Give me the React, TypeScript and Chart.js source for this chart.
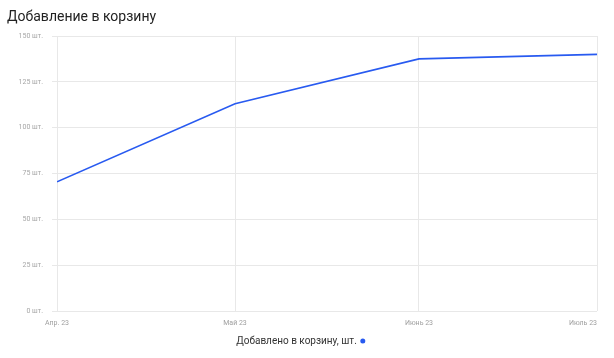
import React, { useEffect, useRef } from 'react';
import { Chart, registerables } from 'chart.js';

Chart.register(...registerables);

const chartTitle = 'Добавление в корзину';
const monthDates = ['2023-04-01', '2023-05-01', '2023-06-01', '2023-07-01'];
const monthLabels = ['Апр. 23', 'Май 23', 'Июнь 23', 'Июль 23'];
const addedToCart = [70.5, 113, 137.5, 140];
const yMin = 0;
const yMax = 150;
const yStep = 25;
const unit = 'шт.';
const seriesName = 'Добавлено в корзину, шт.';

const LINE_COLOR = '#285af0';
const GRID_COLOR = '#e8e8e8';

export default function App() {
  const ref = useRef<HTMLCanvasElement | null>(null);

  useEffect(() => {
    const canvas = ref.current;
    if (!canvas) return;
    const times = monthDates.map((d) => Date.parse(d + 'T00:00:00Z'));

    const decor = {
      id: 'decor',
      afterDraw(chart: any) {
        const ctx = chart.ctx as CanvasRenderingContext2D;
        const xs = chart.scales.x;
        const area = chart.chartArea;
        ctx.save();
        // title
        ctx.font = '14px Roboto';
        ctx.fillStyle = '#222222';
        ctx.textAlign = 'left';
        ctx.textBaseline = 'alphabetic';
        ctx.fillText(chartTitle, 7, 21);
        // x labels
        ctx.font = '7px Roboto';
        ctx.fillStyle = '#9e9e9e';
        ctx.textBaseline = 'middle';
        times.forEach((t, i) => {
          const px = xs.getPixelForValue(t);
          ctx.textAlign = i === times.length - 1 ? 'right' : 'center';
          ctx.fillText(monthLabels[i], px, area.bottom + 12);
        });
        // legend
        ctx.font = '10px Roboto';
        ctx.fillStyle = '#333333';
        ctx.textAlign = 'left';
        const tw = ctx.measureText(seriesName).width;
        const total = tw + 4 + 5;
        const start = chart.width / 2 - total / 2 - 6;
        const ly = area.bottom + 30;
        ctx.fillText(seriesName, start, ly);
        ctx.beginPath();
        ctx.fillStyle = LINE_COLOR;
        ctx.arc(start + tw + 6, ly, 2.5, 0, Math.PI * 2);
        ctx.fill();
        ctx.restore();
      },
    };

    const chart = new Chart(canvas, {
      type: 'line',
      data: {
        datasets: [
          {
            label: seriesName,
            data: times.map((t, i) => ({ x: t, y: addedToCart[i] })),
            borderColor: LINE_COLOR,
            backgroundColor: LINE_COLOR,
            borderWidth: 1.6,
            pointRadius: 0,
            tension: 0,
            fill: false,
          },
        ],
      },
      options: {
        animation: false,
        responsive: false,
        layout: { padding: { top: 36, right: 17, bottom: 47, left: 0 } },
        plugins: {
          legend: { display: false },
          title: { display: false },
          tooltip: { enabled: false },
        },
        scales: {
          x: {
            type: 'linear',
            min: times[0],
            max: times[times.length - 1],
            afterBuildTicks: (s: any) => {
              s.ticks = times.map((v) => ({ value: v }));
            },
            afterFit: (s: any) => {
              s.height = 0;
            },
            ticks: { display: false },
            grid: { color: GRID_COLOR, drawTicks: false, lineWidth: 1 },
            border: { display: false },
          },
          y: {
            min: yMin,
            max: yMax,
            afterFit: (s: any) => {
              s.width = 57;
            },
            ticks: {
              stepSize: yStep,
              padding: 9,
              color: '#a6a6a6',
              font: { family: 'Roboto', size: 7 },
              callback: (v: any) => `${v} ${unit}`,
            },
            grid: { color: GRID_COLOR, tickLength: 5, lineWidth: 1 },
            border: { display: false },
          },
        },
      },
      plugins: [decor],
    });
    return () => chart.destroy();
  }, []);

  return (
    <div style={{ position: 'fixed', left: 0, top: 0, width: 614, height: 358, background: '#fff' }}>
      <canvas ref={ref} width={614} height={358} style={{ display: 'block' }} />
    </div>
  );
}
